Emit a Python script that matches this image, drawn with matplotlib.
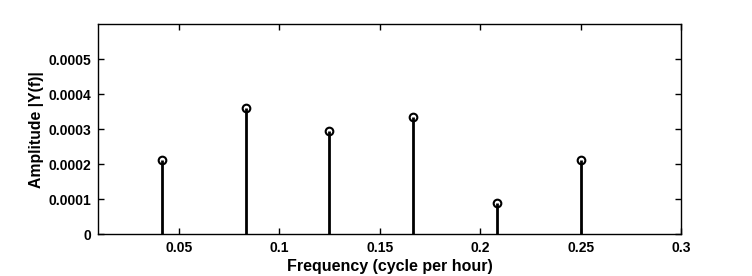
import matplotlib
matplotlib.use("Agg")
from matplotlib import pyplot as plt

# frequencies (cycle per hour) and amplitudes
freq = [1 / 24, 2 / 24, 3 / 24, 4 / 24, 5 / 24, 6 / 24]
amp = [0.000211, 0.000360, 0.000295, 0.000335, 0.0000895, 0.000211]

xticks = [0.05, 0.1, 0.15, 0.2, 0.25, 0.3]
xtick_labels = ['0.05', '0.1', '0.15', '0.2', '0.25', '0.3']
yticks = [0, 0.0001, 0.0002, 0.0003, 0.0004, 0.0005]
ytick_labels = ['0', '0.0001', '0.0002', '0.0003', '0.0004', '0.0005']

plt.rcParams['font.family'] = ['Liberation Sans', 'DejaVu Sans']

fig = plt.figure(figsize=(7.52, 2.76), dpi=100)
ax = fig.add_axes([0.1307, 0.151, 0.7753, 0.761])

markerline, stemlines, baseline = ax.stem(freq, amp, linefmt='k-', markerfmt='ko', basefmt=' ')
markerline.set_markerfacecolor('none')
markerline.set_markersize(5.5)
markerline.set_markeredgewidth(1.5)
stemlines.set_linewidth(2)

ax.set_xlim(0.01, 0.3)
ax.set_ylim(0, 0.0006)
ax.set_xticks(xticks)
ax.set_xticklabels(xtick_labels, fontweight='bold', fontsize=10)
ax.set_yticks(yticks)
ax.set_yticklabels(ytick_labels, fontweight='bold', fontsize=10)
ax.tick_params(direction='in', top=True, right=True, length=4.5, width=1, pad=5)
for s in ax.spines.values():
    s.set_linewidth(1)

ax.set_xlabel('Frequency (cycle per hour)', fontweight='bold', fontsize=11.5, labelpad=3)
ax.set_ylabel('Amplitude |Y(f)|', fontweight='bold', fontsize=11.3, labelpad=3)

plt.savefig('out.png', dpi=100)
